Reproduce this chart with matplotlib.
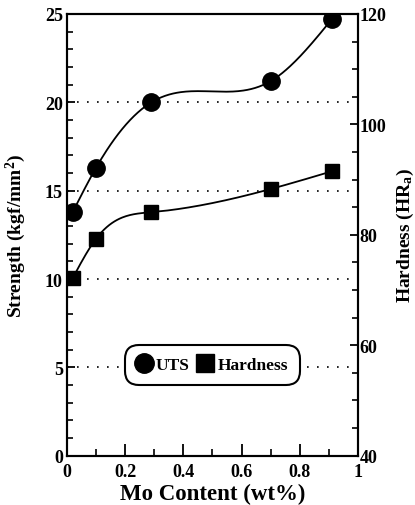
import numpy as np
import matplotlib
matplotlib.use("Agg")
import matplotlib.pyplot as plt
from matplotlib.ticker import MultipleLocator, FixedLocator
from matplotlib.lines import Line2D

# Measured data
mo_content = [0.02, 0.10, 0.29, 0.70, 0.91]          # wt%
uts = [13.8, 16.3, 20.0, 21.2, 24.7]                 # kgf/mm^2
hardness = [72.2, 79.3, 84.1, 88.3, 91.5]            # HRa

x_ticks = [0, 0.2, 0.4, 0.6, 0.8, 1]
x_tick_labels = ["0", "0.2", "0.4", "0.6", "0.8", "1"]
left_ticks = [0, 5, 10, 15, 20, 25]
right_ticks = [40, 60, 80, 100, 120]


def natural_spline(x, y, n=200):
    """Natural cubic spline through (x, y), sampled on n points."""
    x = np.asarray(x, float)
    y = np.asarray(y, float)
    m = len(x)
    h = np.diff(x)
    A = np.zeros((m, m))
    b = np.zeros(m)
    A[0, 0] = A[-1, -1] = 1.0
    for i in range(1, m - 1):
        A[i, i - 1] = h[i - 1]
        A[i, i] = 2 * (h[i - 1] + h[i])
        A[i, i + 1] = h[i]
        b[i] = 3 * ((y[i + 1] - y[i]) / h[i] - (y[i] - y[i - 1]) / h[i - 1])
    c = np.linalg.solve(A, b)
    xs = np.linspace(x[0], x[-1], n)
    idx = np.clip(np.searchsorted(x, xs) - 1, 0, m - 2)
    dx = xs - x[idx]
    hi = h[idx]
    bi = (y[idx + 1] - y[idx]) / hi - hi * (2 * c[idx] + c[idx + 1]) / 3
    di = (c[idx + 1] - c[idx]) / (3 * hi)
    ys = y[idx] + bi * dx + c[idx] * dx ** 2 + di * dx ** 3
    return xs, ys


plt.rcParams["font.family"] = ["Liberation Serif", "DejaVu Serif"]
plt.rcParams["font.weight"] = "bold"
plt.rcParams["mathtext.fontset"] = "custom"
plt.rcParams["mathtext.rm"] = "Liberation Serif:bold"
plt.rcParams["mathtext.it"] = "Liberation Serif:bold"
plt.rcParams["mathtext.bf"] = "Liberation Serif:bold"
plt.rcParams["mathtext.default"] = "rm"

fig = plt.figure(figsize=(4.15, 5.06), dpi=100)
ax = fig.add_axes([0.1614, 0.0974, 0.7012, 0.873])
ax2 = ax.twinx()

# dotted reference lines on the strength scale
for yv in [5, 10, 15, 20]:
    ax.axhline(yv, color="black", lw=1.2, ls=(0, (1, 5)), zorder=1)

xs, ys = natural_spline(mo_content, uts)
ax.plot(xs, ys, color="black", lw=1.3, zorder=3)
ax.plot(mo_content, uts, ls="none", marker="o", ms=12.5, color="black", zorder=4)

xh, yh = natural_spline(mo_content, hardness)
ax2.plot(xh, yh, color="black", lw=1.3, zorder=3)
ax2.plot(mo_content, hardness, ls="none", marker="s", ms=10, color="black", zorder=4)

ax.set_xlim(0, 1)
ax.set_ylim(0, 25)
ax2.set_ylim(40, 120)

ax.xaxis.set_major_locator(FixedLocator(x_ticks))
ax.set_xticklabels(x_tick_labels)
ax.xaxis.set_minor_locator(MultipleLocator(0.1))
ax.yaxis.set_major_locator(FixedLocator(left_ticks))
ax.yaxis.set_minor_locator(MultipleLocator(1))
ax2.yaxis.set_major_locator(FixedLocator(right_ticks))
ax2.yaxis.set_minor_locator(MultipleLocator(5))

ax.tick_params(axis="x", which="major", direction="in", length=9, width=1.3,
               labelsize=13, pad=5, top=False)
ax.tick_params(axis="x", which="minor", direction="in", length=5, width=1.2, top=False)
ax.tick_params(axis="y", which="major", direction="in", length=6, width=1.3,
               labelsize=13, pad=3)
ax.tick_params(axis="y", which="minor", direction="in", length=4, width=1.2)
ax2.tick_params(axis="y", which="major", direction="in", length=6, width=1.3,
                labelsize=13, pad=1)
ax2.tick_params(axis="y", which="minor", direction="in", length=4, width=1.2)

for a in (ax, ax2):
    for s in a.spines.values():
        s.set_linewidth(1.5)
    for lab in a.get_xticklabels() + a.get_yticklabels():
        lab.set_fontweight("bold")

ax.set_xlabel("Mo Content (wt%)", fontsize=16.5, fontweight="bold", labelpad=2)
ax.set_ylabel(r"Strength (kgf/mm$^{2}$)", fontsize=14, fontweight="bold", labelpad=12)
ax2.set_ylabel(r"Hardness (HR$_{a}$)", fontsize=14, fontweight="bold", labelpad=6,
               rotation=90)

handles = [
    Line2D([], [], ls="none", marker="o", ms=14, color="black"),
    Line2D([], [], ls="none", marker="s", ms=13, color="black"),
]
leg = ax2.legend(handles, ["UTS", "Hardness"], loc="center", bbox_to_anchor=(0.5, 0.205),
                 ncol=2, frameon=True, fancybox=True, handlelength=0.8,
                 handletextpad=0.3, columnspacing=0.5, borderpad=0.45,
                 borderaxespad=0.0, prop={"weight": "bold", "size": 12.5})
frame = leg.get_frame()
frame.set_edgecolor("black")
frame.set_linewidth(1.5)
frame.set_facecolor("white")
frame.set_alpha(1)
frame.set_boxstyle("round,pad=0.25,rounding_size=0.8")

fig.savefig("out.png", dpi=100)
